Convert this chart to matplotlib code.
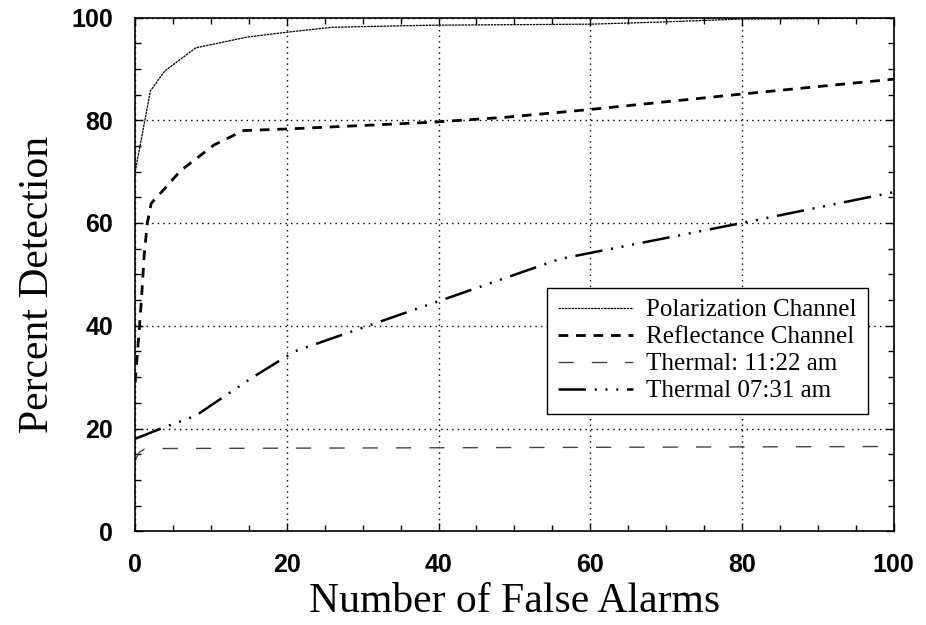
import numpy as np
import matplotlib
matplotlib.use("Agg")
import matplotlib.pyplot as plt
from matplotlib.ticker import MultipleLocator

# values
pol_x = [0, 2.0, 3.9, 8.0, 14.8, 19.8, 26, 39, 60, 69, 80, 100]
pol_y = [70, 85.7, 89.6, 94.1, 96.2, 97.1, 98.1, 98.5, 98.7, 99.1, 99.7, 99.9]

refl_x = [0, 0.5, 0.8, 1.2, 1.6, 2.1, 3.7, 6.0, 10.4, 14.3, 20, 39, 49, 60, 80, 100]
refl_y = [29, 38.6, 44.6, 54, 60, 63.8, 66.4, 70.2, 75.2, 78, 78.3, 79.6, 80.6, 82.1, 85.1, 88]

th1122_x = [0, 0.5, 1.2, 3, 100]
th1122_y = [13.8, 15.3, 16, 16.1, 16.5]

th0731_x = [0, 3.6, 8, 15, 21, 56, 80, 100]
th0731_y = [18, 20.1, 22.5, 29.5, 35, 53, 60, 66]

labels = ["Polarization Channel", "Reflectance Channel",
          "Thermal: 11:22 am", "Thermal 07:31 am"]

fig = plt.figure(figsize=(9.26, 6.25), dpi=100)
ax = fig.add_axes([0.146, 0.15, 0.819, 0.822])

ax.plot(pol_x, pol_y, color="black", lw=0.9, linestyle=(0, (2, 0.6)), label=labels[0])
ax.plot(refl_x, refl_y, color="black", lw=2.0, linestyle=(0, (3.5, 2.8)), label=labels[1])
ax.plot(th1122_x, th1122_y, color="#444444", lw=1.0, linestyle=(0, (11, 13)), label=labels[2])
ax.plot(th0731_x, th0731_y, color="black", lw=1.8,
        linestyle=(0, (11, 3.5, 0.8, 3.5, 0.8, 3.5, 0.8, 3.5)), label=labels[3])

ax.set_xlim(0, 100)
ax.set_ylim(0, 100)
ax.xaxis.set_major_locator(MultipleLocator(20))
ax.yaxis.set_major_locator(MultipleLocator(20))
ax.xaxis.set_minor_locator(MultipleLocator(5))
ax.yaxis.set_minor_locator(MultipleLocator(5))
ax.grid(True, which="major", color="black", lw=1.0, linestyle=(0, (1, 3)))

ax.tick_params(which="both", direction="in", top=True, right=True, width=1)
ax.tick_params(which="major", length=6, labelsize=18, pad=16)
ax.tick_params(axis="x", which="major", pad=16)
ax.tick_params(which="minor", length=4)
for lab in ax.get_xticklabels() + ax.get_yticklabels():
    lab.set_fontfamily("Liberation Sans")
    lab.set_fontweight("bold")
for sp in ax.spines.values():
    sp.set_linewidth(1.2)

ax.set_xlabel("Number of False Alarms", family="Liberation Serif", fontsize=30)
ax.set_ylabel("Percent Detection", family="Liberation Serif", fontsize=30)
ax.xaxis.set_label_coords(0.5, -0.1)
ax.yaxis.set_label_coords(-0.103, 0.48)

leg = ax.legend(loc="upper left", bbox_to_anchor=(0.543, 0.474), borderaxespad=0,
                prop={"family": "Liberation Serif", "size": 18},
                handlelength=3.0, labelspacing=0.18, handletextpad=0.5,
                borderpad=0.45, fancybox=False, framealpha=1)
leg.get_frame().set_edgecolor("black")
leg.get_frame().set_linewidth(1.0)

fig.savefig("out.png", dpi=100)
